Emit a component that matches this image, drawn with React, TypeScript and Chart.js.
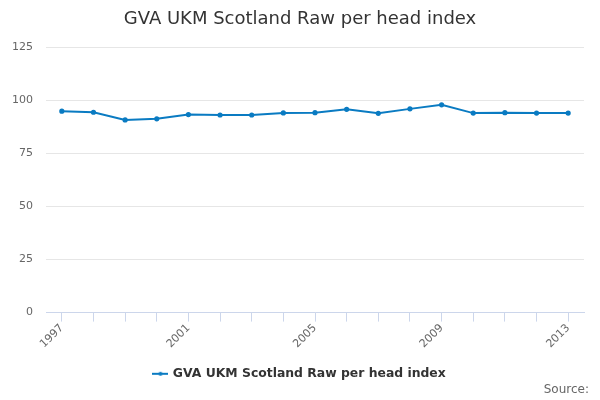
import { useEffect, useRef } from "react";
import { Chart, registerables } from "chart.js";

Chart.register(...registerables);

const years = ["1997", "1998", "1999", "2000", "2001", "2002", "2003", "2004", "2005", "2006", "2007", "2008", "2009", "2010", "2011", "2012", "2013"];
const perHeadIndex = [95.0, 94.5, 90.9, 91.4, 93.4, 93.2, 93.2, 94.2, 94.3, 95.9, 94.0, 96.1, 98.0, 94.1, 94.3, 94.1, 94.1];
const yTicks = [0, 25, 50, 75, 100, 125];

const seriesName = "GVA UKM Scotland Raw per head index";
const lineColor = "#0a7bc2";
const font = "'DejaVu Sans', sans-serif";

function legendSymbol() {
  const c = document.createElement("canvas");
  c.width = 16;
  c.height = 8;
  const g = c.getContext("2d");
  if (g) {
    g.strokeStyle = lineColor;
    g.lineWidth = 2;
    g.beginPath();
    g.moveTo(0, 4);
    g.lineTo(16, 4);
    g.stroke();
    g.fillStyle = lineColor;
    g.beginPath();
    g.arc(8, 4, 2, 0, Math.PI * 2);
    g.fill();
  }
  return c;
}

const sourcePlugin = {
  id: "sourceText",
  afterDraw(chart: Chart) {
    const { ctx } = chart;
    ctx.save();
    ctx.font = `12px ${font}`;
    ctx.fillStyle = "#666666";
    ctx.textAlign = "right";
    ctx.textBaseline = "middle";
    ctx.fillText("Source:", 589, 390);
    ctx.restore();
  },
};

export default function App() {
  const canvasRef = useRef<HTMLCanvasElement>(null);
  const chartRef = useRef<Chart | null>(null);

  useEffect(() => {
    if (!canvasRef.current) return;
    if (chartRef.current) chartRef.current.destroy();

    const symbol = legendSymbol();

    chartRef.current = new Chart(canvasRef.current, {
      type: "line",
      data: {
        labels: years,
        datasets: [{
          label: seriesName,
          data: perHeadIndex,
          borderColor: lineColor,
          backgroundColor: lineColor,
          borderWidth: 2,
          pointRadius: 1.6,
          pointHoverRadius: 3,
          pointStyle: "circle",
          tension: 0,
        }],
      },
      options: {
        animation: false,
        responsive: false,
        layout: { padding: { left: 0, right: 0, top: 0, bottom: 10 } },
        scales: {
          x: {
            offset: true,
            grid: {
              display: true,
              drawOnChartArea: false,
              drawTicks: true,
              tickLength: 9,
              color: "#ccd6eb",
              offset: false,
            },
            border: { display: true, color: "#ccd6eb" },
            ticks: {
              autoSkip: false,
              maxRotation: 45,
              minRotation: 45,
              color: "#666666",
              font: { family: font, size: 11 },
              padding: 0,
              callback: (_v, i) => (i % 4 === 0 ? years[i] : ""),
            },
            afterFit: (scale) => { scale.height = 45; },
          },
          y: {
            min: 0,
            max: 125,
            afterBuildTicks: (scale) => { scale.ticks = yTicks.map((v) => ({ value: v })); },
            grid: { color: "#e6e6e6", drawTicks: false },
            border: { display: false },
            ticks: {
              color: "#666666",
              font: { family: font, size: 11 },
              padding: 13,
            },
            afterFit: (scale) => { scale.width = 46; },
          },
          // empty right-hand spacer so the plot ends 16px before the edge
          yRight: {
            position: "right",
            min: 0,
            max: 125,
            grid: { display: false },
            border: { display: false },
            ticks: { display: false },
            afterFit: (scale) => { scale.width = 16; },
          },
        },
        plugins: {
          title: {
            display: true,
            text: seriesName,
            color: "#333333",
            font: { family: font, size: 18, weight: "normal" },
            padding: { top: 9, bottom: 17 },
          },
          legend: {
            position: "bottom",
            labels: {
              color: "#333333",
              font: { family: font, size: 12.4, weight: "bold" },
              usePointStyle: true,
              padding: 10,
              generateLabels: () => [{
                text: seriesName,
                pointStyle: symbol,
                fillStyle: lineColor,
                strokeStyle: lineColor,
                fontColor: "#333333",
                lineWidth: 0,
                hidden: false,
                datasetIndex: 0,
              }],
            },
          },
          tooltip: { enabled: false },
        },
      },
      plugins: [sourcePlugin],
    });

    return () => {
      if (chartRef.current) {
        chartRef.current.destroy();
        chartRef.current = null;
      }
    };
  }, []);

  return (
    <div style={{ position: "fixed", left: 0, top: 0, width: 600, height: 400, background: "#ffffff" }}>
      <canvas ref={canvasRef} width={600} height={400} style={{ width: 600, height: 400 }} />
    </div>
  );
}
